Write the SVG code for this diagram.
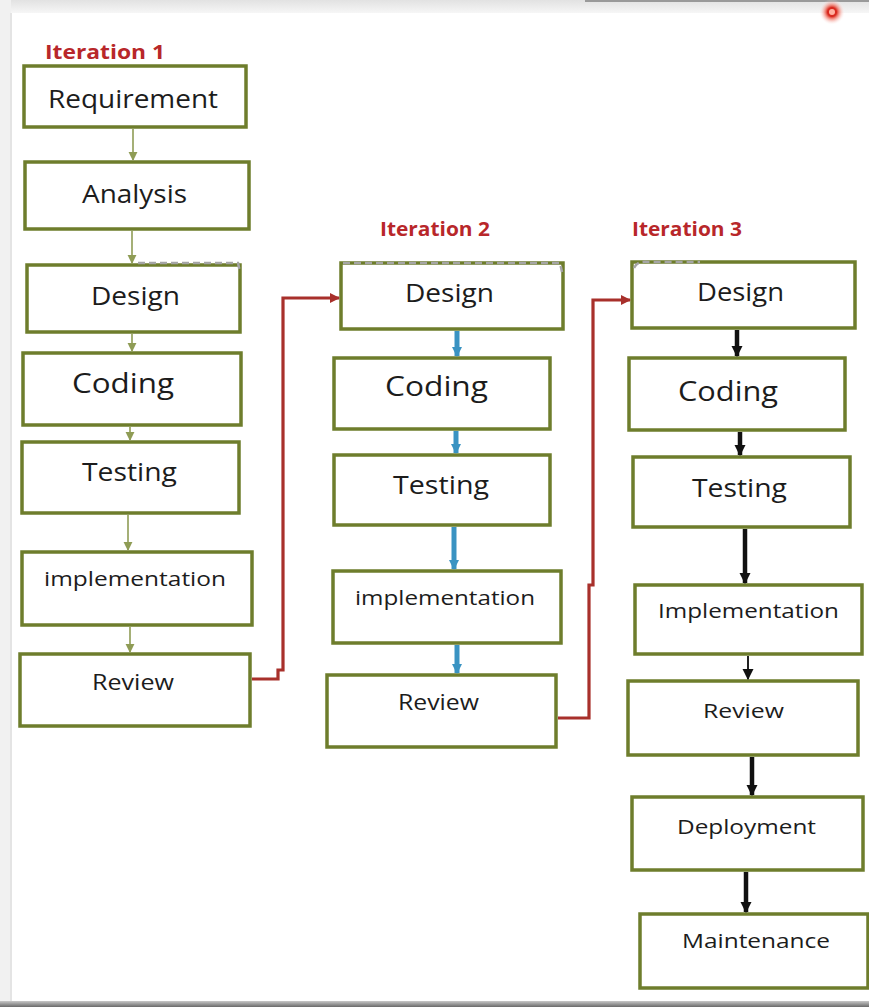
<svg xmlns="http://www.w3.org/2000/svg" width="869" height="1007" viewBox="0 0 869 1007">
  <defs>
    <style>
      .box { fill: #ffffff; stroke: #6e7d2c; stroke-width: 3.5; }
      .lbl { font-family: "Open Sans", "Liberation Sans", sans-serif; fill: #1c1c1c; text-anchor: start; }
      .iter { font-family: "Open Sans", "Liberation Sans", sans-serif; font-weight: bold; fill: #b8272a; font-size: 20px; }
      .g { stroke: #8f9c55; stroke-width: 1.6; fill: none; }
      .b { stroke: #3a93c2; stroke-width: 5; fill: none; }
      .k { stroke: #111111; stroke-width: 4.5; fill: none; }
      .r { stroke: #a8302b; stroke-width: 3.2; fill: none; }
      .sq { stroke: #a5a5a5; stroke-width: 2.5; fill: none; stroke-dasharray: 7 4; }
    </style>
    <marker id="mg" viewBox="0 0 10 10" refX="9" refY="5" markerUnits="userSpaceOnUse" markerWidth="9" markerHeight="10" orient="auto">
      <path d="M0,0 L10,5 L0,10 Z" fill="#8f9c55"/>
    </marker>
    <marker id="mb" viewBox="0 0 10 10" refX="9" refY="5" markerUnits="userSpaceOnUse" markerWidth="10" markerHeight="12" orient="auto">
      <path d="M0,0 L10,5 L0,10 Z" fill="#3a93c2"/>
    </marker>
    <marker id="mk" viewBox="0 0 10 10" refX="9" refY="5" markerUnits="userSpaceOnUse" markerWidth="11" markerHeight="13" orient="auto">
      <path d="M0,0 L10,5 L0,10 Z" fill="#111111"/>
    </marker>
    <marker id="mr" viewBox="0 0 10 10" refX="9" refY="5" markerUnits="userSpaceOnUse" markerWidth="11" markerHeight="10" orient="auto">
      <path d="M0,0 L10,5 L0,10 Z" fill="#a8302b"/>
    </marker>
    <radialGradient id="glow">
      <stop offset="0.35" stop-color="#d82a1f"/>
      <stop offset="0.55" stop-color="#f07060" stop-opacity="0.7"/>
      <stop offset="1" stop-color="#ffffff" stop-opacity="0"/>
    </radialGradient>
    <linearGradient id="topband" x1="0" y1="0" x2="0" y2="1">
      <stop offset="0" stop-color="#e2e2e2"/>
      <stop offset="1" stop-color="#f6f6f6"/>
    </linearGradient>
    <linearGradient id="botband" x1="0" y1="0" x2="0" y2="1">
      <stop offset="0" stop-color="#c8c8c8"/>
      <stop offset="1" stop-color="#6a6a6a"/>
    </linearGradient>
  </defs>

  <!-- screenshot frame -->
  <g id="frame">
    <rect x="0" y="0" width="869" height="1007" fill="#ffffff"/>
    <rect x="0" y="0" width="869" height="13" fill="url(#topband)"/>
    <rect x="585" y="0" width="284" height="2" fill="#9a9a9a"/>
    <rect x="0" y="0" width="11" height="1007" fill="#f1f1f1"/>
    <rect x="10" y="13" width="2" height="990" fill="#e4e4e4"/>
    <rect x="0" y="1001" width="869" height="6" fill="url(#botband)"/>
    <circle cx="832" cy="12" r="13" fill="url(#glow)"/>
    <circle cx="832" cy="12" r="3" fill="#ffb0a0"/>
  </g>

  <!-- labels -->
  <g id="iteration-labels">
    <text class="iter" x="45" y="59" textLength="120" lengthAdjust="spacingAndGlyphs">Iteration 1</text>
    <text class="iter" x="380" y="236" textLength="110" lengthAdjust="spacingAndGlyphs">Iteration 2</text>
    <text class="iter" x="632" y="236" textLength="110" lengthAdjust="spacingAndGlyphs">Iteration 3</text>
  </g>

  <!-- Iteration 1 -->
  <g id="i1-requirement"><rect class="box" x="24" y="66" width="222" height="61"/><text class="lbl" x="48" y="108" font-size="25" textLength="170" lengthAdjust="spacingAndGlyphs">Requirement</text></g>
  <g id="i1-analysis"><rect class="box" x="25" y="162" width="224" height="67"/><text class="lbl" x="82" y="203" font-size="26" textLength="105" lengthAdjust="spacingAndGlyphs">Analysis</text></g>
  <g id="i1-design"><rect class="box" x="27" y="265" width="213" height="67"/><text class="lbl" x="91" y="305" font-size="26" textLength="89" lengthAdjust="spacingAndGlyphs">Design</text></g>
  <g id="i1-coding"><rect class="box" x="23" y="353" width="218" height="72"/><text class="lbl" x="72" y="393" font-size="27" textLength="102" lengthAdjust="spacingAndGlyphs">Coding</text></g>
  <g id="i1-testing"><rect class="box" x="22" y="442" width="217" height="71"/><text class="lbl" x="82" y="481" font-size="26" textLength="95" lengthAdjust="spacingAndGlyphs">Testing</text></g>
  <g id="i1-implementation"><rect class="box" x="22" y="552" width="230" height="73"/><text class="lbl" x="44" y="586" font-size="20" textLength="182" lengthAdjust="spacingAndGlyphs">implementation</text></g>
  <g id="i1-review"><rect class="box" x="20" y="654" width="230" height="72"/><text class="lbl" x="92" y="690" font-size="22" textLength="82" lengthAdjust="spacingAndGlyphs">Review</text></g>

  <!-- Iteration 2 -->
  <g id="i2-design"><rect class="box" x="341" y="263" width="222" height="66"/><text class="lbl" x="405" y="302" font-size="26" textLength="89" lengthAdjust="spacingAndGlyphs">Design</text></g>
  <g id="i2-coding"><rect class="box" x="334" y="358" width="216" height="71"/><text class="lbl" x="385" y="396" font-size="27" textLength="103" lengthAdjust="spacingAndGlyphs">Coding</text></g>
  <g id="i2-testing"><rect class="box" x="334" y="455" width="216" height="70"/><text class="lbl" x="393" y="494" font-size="26" textLength="96" lengthAdjust="spacingAndGlyphs">Testing</text></g>
  <g id="i2-implementation"><rect class="box" x="333" y="571" width="228" height="72"/><text class="lbl" x="355" y="605" font-size="20" textLength="180" lengthAdjust="spacingAndGlyphs">implementation</text></g>
  <g id="i2-review"><rect class="box" x="327" y="675" width="229" height="72"/><text class="lbl" x="398" y="710" font-size="21" textLength="81" lengthAdjust="spacingAndGlyphs">Review</text></g>

  <!-- Iteration 3 -->
  <g id="i3-design"><rect class="box" x="632" y="262" width="223" height="66"/><text class="lbl" x="697" y="301" font-size="26" textLength="87" lengthAdjust="spacingAndGlyphs">Design</text></g>
  <g id="i3-coding"><rect class="box" x="629" y="358" width="216" height="72"/><text class="lbl" x="678" y="401" font-size="27" textLength="100" lengthAdjust="spacingAndGlyphs">Coding</text></g>
  <g id="i3-testing"><rect class="box" x="633" y="457" width="217" height="70"/><text class="lbl" x="692" y="497" font-size="26" textLength="95" lengthAdjust="spacingAndGlyphs">Testing</text></g>
  <g id="i3-implementation"><rect class="box" x="635" y="585" width="227" height="69"/><text class="lbl" x="658" y="618" font-size="20" textLength="181" lengthAdjust="spacingAndGlyphs">Implementation</text></g>
  <g id="i3-review"><rect class="box" x="628" y="681" width="230" height="74"/><text class="lbl" x="703" y="718" font-size="20" textLength="81" lengthAdjust="spacingAndGlyphs">Review</text></g>
  <g id="i3-deployment"><rect class="box" x="632" y="797" width="231" height="73"/><text class="lbl" x="677" y="834" font-size="20" textLength="139" lengthAdjust="spacingAndGlyphs">Deployment</text></g>
  <g id="i3-maintenance"><rect class="box" x="640" y="914" width="228" height="74"/><text class="lbl" x="682" y="948" font-size="20" textLength="148" lengthAdjust="spacingAndGlyphs">Maintenance</text></g>

  <!-- selection squiggles -->
  <g id="squiggles">
    <path class="sq" d="M138,263 L238,263 L240,272"/>
    <path class="sq" d="M343,263 L560,263 L562,272"/>
    <path class="sq" d="M634,268 C638,260 645,262 652,262 L700,262"/>
  </g>

  <!-- connectors -->
  <g id="connectors">
    <path class="g" d="M133,129 V160" marker-end="url(#mg)"/>
    <path class="g" d="M132,231 V263" marker-end="url(#mg)"/>
    <path class="g" d="M132,334 V351" marker-end="url(#mg)"/>
    <path class="g" d="M130,427 V440" marker-end="url(#mg)"/>
    <path class="g" d="M128,515 V550" marker-end="url(#mg)"/>
    <path class="g" d="M130,627 V652" marker-end="url(#mg)"/>

    <path class="b" d="M457,331 V356" marker-end="url(#mb)"/>
    <path class="b" d="M456,431 V453" marker-end="url(#mb)"/>
    <path class="b" d="M454,527 V569" marker-end="url(#mb)"/>
    <path class="b" d="M457,645 V673" marker-end="url(#mb)"/>

    <path class="k" d="M737,330 V356" marker-end="url(#mk)"/>
    <path class="k" d="M740,432 V455" marker-end="url(#mk)"/>
    <path class="k" d="M745,529 V583" marker-end="url(#mk)"/>
    <path d="M748,656 V679" stroke="#222" stroke-width="2" fill="none" marker-end="url(#mk)"/>
    <path class="k" d="M752,757 V795" marker-end="url(#mk)"/>
    <path class="k" d="M746,872 V912" marker-end="url(#mk)"/>

    <path class="r" d="M252,679 H278 V670 H283 V298 H339" marker-end="url(#mr)"/>
    <path class="r" d="M558,718 H589 V585 H593 V300 H630" marker-end="url(#mr)"/>
  </g>
</svg>
